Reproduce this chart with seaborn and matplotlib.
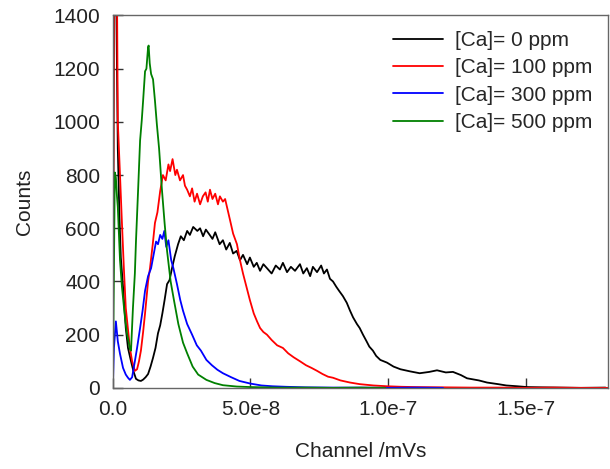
import matplotlib
matplotlib.use("Agg")
import matplotlib.pyplot as plt
import seaborn as sns
import pandas as pd

# channel values are in units of 1e-8 mVs
black_x = [0.0, 0.04, 0.12, 0.18, 0.24, 0.29, 0.37, 0.47, 0.55, 0.66, 0.75, 0.84, 0.93, 1.02, 1.10, 1.19,
           1.28, 1.37, 1.46, 1.55, 1.64, 1.72, 1.80, 1.88, 1.97, 2.06, 2.15, 2.25, 2.37, 2.47, 2.58, 2.70,
           2.80, 2.92, 3.07, 3.17, 3.28, 3.38, 3.52, 3.62, 3.72, 3.88, 4.00, 4.12, 4.25, 4.37, 4.50, 4.62,
           4.73, 4.88, 4.98, 5.12, 5.23, 5.35, 5.47, 5.60, 5.77, 5.92, 6.07, 6.18, 6.33, 6.47, 6.62, 6.80,
           6.92, 7.05, 7.17, 7.27, 7.42, 7.57, 7.67, 7.78, 7.89, 8.00, 8.12, 8.22, 8.36, 8.50, 8.62, 8.73,
           8.87, 8.97, 9.09, 9.22, 9.32, 9.45, 9.57, 9.72, 9.96, 10.2, 10.45, 10.8, 11.15, 11.5, 11.78, 12.1,
           12.36, 12.65, 12.87, 13.3, 13.6, 14.0, 14.3, 14.7, 15.05, 15.6, 16.3, 17.0, 17.9]
black_y = [0, 1500, 1500, 900, 640, 490, 380, 225, 150, 100, 62, 34, 28, 26, 31, 40,
           52, 80, 113, 150, 205, 235, 280, 330, 390, 405, 450, 495, 540, 570, 555, 590,
           575, 605, 590, 600, 570, 595, 575, 560, 585, 540, 555, 520, 545, 505, 515, 480,
           500, 465, 490, 455, 470, 440, 465, 450, 430, 460, 445, 470, 435, 455, 440, 465,
           430, 450, 420, 455, 435, 460, 430, 445, 410, 400, 380, 365, 345, 320, 290, 265,
           240, 225, 200, 175, 155, 140, 120, 105, 95, 80, 70, 62, 55, 60, 66, 58,
           60, 48, 36, 28, 20, 14, 9, 6, 3, 2, 1, 0, 1]

red_x = [0.0, 0.04, 0.11, 0.15, 0.18, 0.26, 0.33, 0.40, 0.47, 0.55, 0.62, 0.70, 0.80, 0.88, 0.95, 1.02,
         1.10, 1.17, 1.28, 1.35, 1.45, 1.53, 1.62, 1.72, 1.82, 1.92, 2.02, 2.08, 2.17, 2.27, 2.33, 2.44,
         2.55, 2.62, 2.70, 2.80, 2.88, 2.97, 3.06, 3.17, 3.27, 3.37, 3.45, 3.53, 3.62, 3.72, 3.82, 3.89,
         4.00, 4.08, 4.17, 4.26, 4.37, 4.51, 4.62, 4.73, 4.88, 4.98, 5.12, 5.24, 5.35, 5.47, 5.60, 5.77,
         5.97, 6.18, 6.37, 6.57, 6.80, 7.02, 7.22, 7.42, 7.62, 7.82, 8.00, 8.27, 8.62, 8.97, 9.47, 9.97,
         10.5, 11.0, 12.0, 13.0, 14.0, 15.0, 16.0, 17.0, 18.0]
red_y = [0, 1500, 1500, 1500, 1000, 800, 620, 450, 300, 220, 150, 100, 64, 70, 100, 140,
         210, 280, 400, 450, 540, 620, 660, 740, 800, 780, 840, 815, 860, 800, 820, 780,
         800, 760, 745, 720, 750, 700, 730, 690, 720, 735, 700, 745, 710, 730, 690, 720,
         700, 710, 670, 630, 580, 540, 480, 430, 370, 330, 280, 250, 225, 210, 200, 180,
         160, 150, 130, 115, 100, 85, 75, 64, 52, 42, 38, 28, 20, 14, 9, 6,
         4, 3, 2, 1, 1, 0, 1, 0, 0]

blue_x = [0.0, 0.04, 0.11, 0.18, 0.26, 0.37, 0.47, 0.55, 0.62, 0.70, 0.80, 0.88, 0.99, 1.08, 1.17, 1.28,
          1.39, 1.48, 1.57, 1.64, 1.72, 1.80, 1.87, 1.94, 2.02, 2.12, 2.20, 2.33, 2.45, 2.55, 2.70, 2.88,
          3.05, 3.20, 3.40, 3.60, 3.80, 4.00, 4.30, 4.60, 5.00, 5.40, 5.80, 6.30, 7.00, 8.00, 9.00, 10.0,
          11.0, 12.0]
blue_y = [0, 150, 250, 175, 128, 75, 50, 38, 30, 40, 100, 150, 225, 290, 365, 420,
          450, 500, 550, 540, 575, 560, 590, 530, 555, 480, 450, 390, 330, 290, 240, 200,
          160, 140, 105, 85, 68, 55, 40, 26, 16, 9, 6, 4, 2, 1, 1, 0,
          1, 0]

green_x = [0.0, 0.04, 0.07, 0.11, 0.15, 0.18, 0.26, 0.33, 0.44, 0.52, 0.58, 0.62, 0.66, 0.73, 0.80, 0.84,
           0.92, 0.99, 1.05, 1.10, 1.17, 1.22, 1.28, 1.30, 1.34, 1.39, 1.46, 1.53, 1.60, 1.68, 1.78, 1.88,
           1.97, 2.10, 2.22, 2.38, 2.55, 2.70, 2.90, 3.10, 3.40, 3.70, 4.00, 4.50, 5.00, 6.00, 7.00, 8.00,
           9.00, 9.90]
green_y = [0, 450, 810, 790, 720, 680, 480, 380, 265, 200, 170, 145, 140, 300, 430, 550,
           750, 930, 1005, 1080, 1190, 1200, 1280, 1287, 1220, 1180, 1160, 1080, 990, 900, 750, 620,
           515, 400, 330, 240, 170, 130, 80, 50, 30, 18, 10, 5, 3, 1, 1, 0,
           1, 0]

labels = ["[Ca]= 0 ppm", "[Ca]= 100 ppm", "[Ca]= 300 ppm", "[Ca]= 500 ppm"]
colors = ["#000000", "#ff0000", "#0000ff", "#008000"]
tick_vals = [0.0, 5.0e-8, 1.0e-7, 1.5e-7]
tick_text = ["0.0", "5.0e-8", "1.0e-7", "1.5e-7"]

series = [(black_x, black_y), (red_x, red_y), (blue_x, blue_y), (green_x, green_y)]
frames = []
for lab, (xs, ys) in zip(labels, series):
    assert len(xs) == len(ys), lab
    frames.append(pd.DataFrame({"Channel": [v * 1e-8 for v in xs], "Counts": ys, "Sample": lab}))
df = pd.concat(frames, ignore_index=True)

sns.set_style("white")
plt.rcParams["font.family"] = ["Liberation Sans", "DejaVu Sans"]

fig = plt.figure(figsize=(6.1, 4.69), dpi=100)
ax = fig.add_axes([0.185, 0.173, 0.812, 0.794])

sns.lineplot(data=df, x="Channel", y="Counts", hue="Sample", palette=colors,
             sort=False, estimator=None, linewidth=1.3, ax=ax)

ax.set_xlim(0, 1.8e-7)
ax.set_ylim(0, 1400)
ax.set_xticks(tick_vals)
ax.set_xticklabels(tick_text)
ax.set_yticks(range(0, 1401, 200))
ax.xaxis.set_tick_params(which="major", bottom=True, direction="in", length=7, width=1,
                         pad=9, labelsize=15, color="#333333", labelcolor="#222222")
ax.yaxis.set_tick_params(which="major", left=True, direction="in", length=7, width=1,
                         pad=9, labelsize=15, color="#333333", labelcolor="#222222")
for sp in ax.spines.values():
    sp.set_color("#666666")
    sp.set_linewidth(1)

ax.set_xlabel("Channel /mVs", fontsize=15, labelpad=16, color="#222222")
ax.set_ylabel("Counts", fontsize=15, labelpad=14, color="#222222")

ax.legend(loc="upper right", frameon=False, fontsize=15, handlelength=2.4,
          handletextpad=0.6, labelspacing=0.4, borderaxespad=0.35)

fig.savefig("out.png", dpi=100)
